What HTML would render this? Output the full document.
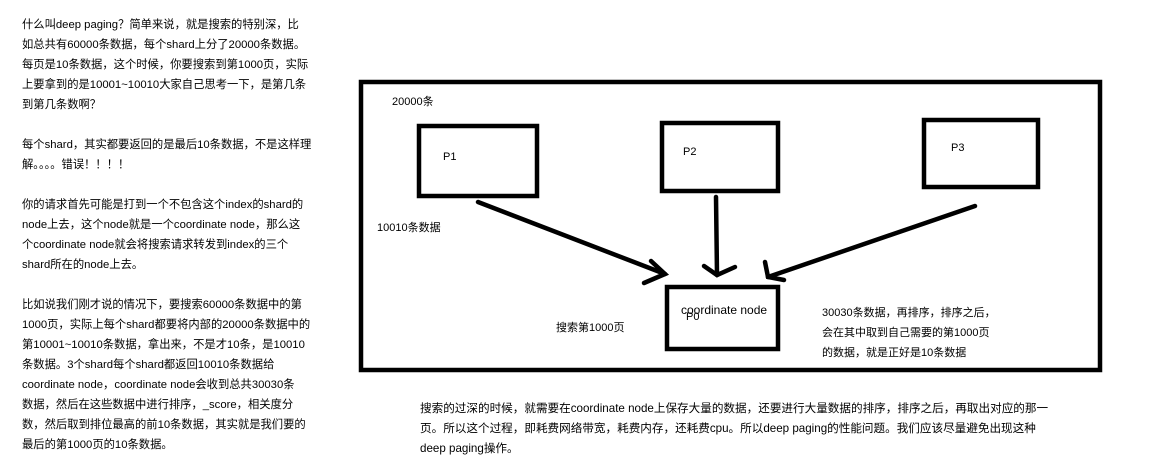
<!DOCTYPE html>
<html><head><meta charset="utf-8"><style>
body{margin:0;width:1152px;height:474px;background:#fff;position:relative;overflow:hidden;font-family:"Liberation Sans","Noto Sans CJK SC",sans-serif;font-size:12px;color:#000}
.t{position:absolute;white-space:nowrap;line-height:20px}
</style></head><body>
<div class="t" style="left:22px;top:15px;font-size:11.3px">什么叫deep paging？简单来说，就是搜索的特别深，比<br>如总共有60000条数据，每个shard上分了20000条数据。<br>每页是10条数据，这个时候，你要搜索到第1000页，实际<br>上要拿到的是10001~10010大家自己思考一下，是第几条<br>到第几条数啊？<br><br>每个shard，其实都要返回的是最后10条数据，不是这样理<br>解。。。。错误！！！！<br><br>你的请求首先可能是打到一个不包含这个index的shard的<br>node上去，这个node就是一个coordinate node，那么这<br>个coordinate node就会将搜索请求转发到index的三个<br>shard所在的node上去。<br><br>比如说我们刚才说的情况下，要搜索60000条数据中的第<br>1000页，实际上每个shard都要将内部的20000条数据中的<br>第10001~10010条数据，拿出来，不是才10条，是10010<br>条数据。3个shard每个shard都返回10010条数据给<br>coordinate node，coordinate node会收到总共30030条<br>数据，然后在这些数据中进行排序，_score，相关度分<br>数，然后取到排位最高的前10条数据，其实就是我们要的<br>最后的第1000页的10条数据。</div>
<svg width="1152" height="474" style="position:absolute;left:0;top:0">
<g fill="none" stroke="#000" stroke-width="4.5" stroke-linecap="round">
<rect x="361" y="82" width="739" height="288" stroke-width="4.5" stroke-linecap="butt"/>
<rect x="419" y="126" width="118" height="70" stroke-linecap="butt"/>
<rect x="662" y="123" width="116" height="68" stroke-linecap="butt"/>
<rect x="924" y="120" width="114" height="67" stroke-linecap="butt"/>
<rect x="667" y="287" width="111" height="62" stroke-linecap="butt"/>
<line x1="478" y1="202" x2="665" y2="274"/>
<polyline points="651,261 665,274 644,283"/>
<line x1="716" y1="197" x2="717" y2="275"/>
<polyline points="704,266 717,275 735,267"/>
<line x1="975" y1="206" x2="768" y2="277"/>
<polyline points="765,262 768,277 784,280"/>
</g>
</svg>
<div class="t" style="left:392px;top:92px;font-size:11px">20000条</div>
<div class="t" style="left:443px;top:147px;font-size:11px">P1</div>
<div class="t" style="left:683px;top:142px;font-size:11px">P2</div>
<div class="t" style="left:951px;top:138px;font-size:11px">P3</div>
<div class="t" style="left:377px;top:218px;font-size:11px">10010条数据</div>
<div class="t" style="left:556px;top:318px;font-size:11px">搜索第1000页</div>
<div class="t" style="left:681px;top:300px;font-size:12px">coordinate node</div>
<div class="t" style="left:686px;top:307px;font-size:11px">P0</div>
<div class="t" style="left:822px;top:303px;font-size:11px">30030条数据，再排序，排序之后，<br>会在其中取到自己需要的第1000页<br>的数据，就是正好是10条数据</div>
<div class="t" style="left:420px;top:399px;font-size:11.6px">搜索的过深的时候，就需要在coordinate node上保存大量的数据，还要进行大量数据的排序，排序之后，再取出对应的那一<br>页。所以这个过程，即耗费网络带宽，耗费内存，还耗费cpu。所以deep paging的性能问题。我们应该尽量避免出现这种<br>deep paging操作。</div>
</body></html>
